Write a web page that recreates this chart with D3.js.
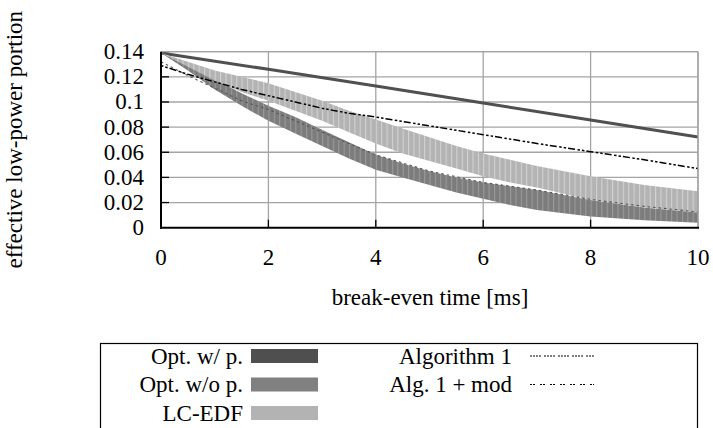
<!DOCTYPE html>
<html>
<head>
<meta charset="utf-8">
<script src="https://cdn.jsdelivr.net/npm/d3@7"></script>
<style>
    body { margin: 0; background: #fff; }
    text { font-family: "Liberation Serif", "DejaVu Serif", serif; fill: #000; }
</style>
</head>
<body>
<svg id="chart" width="713" height="428"></svg>
<script>
// tick values / labels
const xTicks = [0, 2, 4, 6, 8, 10];
const yTicks = [0, 0.02, 0.04, 0.06, 0.08, 0.1, 0.12, 0.14];
const yTickLabels = ["0", "0.02", "0.04", "0.06", "0.08", "0.1", "0.12", "0.14"];

// Opt. w/ p. (thin line)
const optWpX = [0, 2, 4, 6, 8, 10];
const optWpY = [0.139, 0.126, 0.1127, 0.0992, 0.0857, 0.0722];

// Opt. w/o p. band (min / max)
const bandX = [0, 0.5, 1, 1.5, 2, 2.5, 3, 3.5, 4, 4.5, 5, 5.5, 6, 6.5, 7, 8, 9, 10];
const optWoLo = [0.139, 0.125, 0.110, 0.097, 0.085, 0.075, 0.065, 0.055, 0.046, 0.040, 0.034, 0.028, 0.023, 0.018, 0.014, 0.009, 0.006, 0.004];
const optWoHi = [0.139, 0.130, 0.118, 0.107, 0.097, 0.088, 0.078, 0.068, 0.058, 0.051, 0.045, 0.040, 0.036, 0.033, 0.030, 0.022, 0.016, 0.012];

// LC-EDF band (min / max)
const lcLo = [0.139, 0.128, 0.117, 0.108, 0.101, 0.093, 0.085, 0.076, 0.067, 0.059, 0.053, 0.047, 0.041, 0.036, 0.032, 0.022, 0.016, 0.012];
const lcHi = [0.139, 0.132, 0.125, 0.120, 0.115, 0.108, 0.101, 0.093, 0.086, 0.079, 0.072, 0.065, 0.059, 0.054, 0.049, 0.041, 0.034, 0.029];

// Algorithm 1
const alg1X = [0, 0.5, 1, 1.5, 2, 2.5, 3, 3.5, 4, 5, 6, 7, 8, 9, 10];
const alg1Y = [0.129, 0.122, 0.116, 0.110, 0.105, 0.100, 0.095, 0.091, 0.088, 0.081, 0.074, 0.067, 0.0605, 0.054, 0.047];

// Alg. 1 + mod
const modX = [0, 0.5, 1, 1.5, 2, 3, 4, 5, 6, 7, 8, 9, 10];
const modY = [0.132, 0.121, 0.111, 0.101, 0.094, 0.076, 0.058, 0.045, 0.036, 0.030, 0.0225, 0.017, 0.0125];

const svg = d3.select("#chart");
const fontSize = 23;

const x = d3.scaleLinear().domain([0, 10]).range([161, 698]);
const y = d3.scaleLinear().domain([0, 0.14]).range([227.7, 51.7]);

// stripe patterns for the bands (one stripe every 0.1 ms)
const defs = svg.append("defs");
function stripes(id, base, stripe) {
    const w = x(0.1) - x(0);
    const p = defs.append("pattern")
        .attr("id", id)
        .attr("patternUnits", "userSpaceOnUse")
        .attr("x", x(0))
        .attr("width", w)
        .attr("height", 10);
    p.append("rect").attr("width", w).attr("height", 10).attr("fill", base);
    p.append("rect").attr("width", 1.1).attr("height", 10).attr("fill", stripe);
}
stripes("darkStripes", "#7c7c7c", "#9a9a9a");
stripes("lightStripes", "#b3b3b3", "#d2d2d2");

// grid
svg.append("g")
    .selectAll("line")
    .data(xTicks.slice(1))
    .join("line")
    .attr("x1", d => x(d)).attr("x2", d => x(d))
    .attr("y1", y(0)).attr("y2", y(0.14))
    .attr("stroke", "#a4a4a4").attr("stroke-width", 1.3);

svg.append("g")
    .selectAll("line")
    .data(yTicks.slice(1))
    .join("line")
    .attr("x1", x(0)).attr("x2", x(10))
    .attr("y1", d => y(d)).attr("y2", d => y(d))
    .attr("stroke", "#a4a4a4").attr("stroke-width", 1.3);

// inner tick marks
svg.append("g")
    .selectAll("line")
    .data(yTicks.slice(1))
    .join("line")
    .attr("x1", x(0)).attr("x2", x(0) + 8)
    .attr("y1", d => y(d)).attr("y2", d => y(d))
    .attr("stroke", "#000").attr("stroke-width", 1.3);

svg.append("g")
    .selectAll("line")
    .data(xTicks.slice(1, -1))
    .join("line")
    .attr("x1", d => x(d)).attr("x2", d => x(d))
    .attr("y1", y(0)).attr("y2", y(0) - 8)
    .attr("stroke", "#000").attr("stroke-width", 1.3);

const line = d3.line().x(d => x(d[0])).y(d => y(d[1]));
const area = d3.area().x(d => x(d[0])).y0(d => y(d[1])).y1(d => y(d[2]));

// Opt. w/ p.
svg.append("path")
    .datum(optWpX.map((v, i) => [v, optWpY[i]]))
    .attr("d", line)
    .attr("fill", "none")
    .attr("stroke", "#505050")
    .attr("stroke-width", 3);

// Opt. w/o p. band
svg.append("path")
    .datum(bandX.map((v, i) => [v, optWoLo[i], optWoHi[i]]))
    .attr("d", area)
    .attr("fill", "url(#darkStripes)");

// LC-EDF band
svg.append("path")
    .datum(bandX.map((v, i) => [v, lcLo[i], lcHi[i]]))
    .attr("d", area)
    .attr("fill", "url(#lightStripes)");

// Algorithm 1
svg.append("path")
    .datum(alg1X.map((v, i) => [v, alg1Y[i]]))
    .attr("d", line)
    .attr("fill", "none")
    .attr("stroke", "#000")
    .attr("stroke-width", 1.5)
    .attr("stroke-dasharray", "2.5,2,2.5,2,7,2.5");

// Alg. 1 + mod
svg.append("path")
    .datum(modX.map((v, i) => [v, modY[i]]))
    .attr("d", line)
    .attr("fill", "none")
    .attr("stroke", "#555")
    .attr("stroke-width", 1.1)
    .attr("stroke-dasharray", "2.5,3");

// border: top/right grey, left/bottom black
svg.append("line")
    .attr("x1", x(0)).attr("x2", x(10)).attr("y1", y(0.14)).attr("y2", y(0.14))
    .attr("stroke", "#a4a4a4").attr("stroke-width", 1.3);
svg.append("line")
    .attr("x1", x(10)).attr("x2", x(10)).attr("y1", y(0)).attr("y2", y(0.14))
    .attr("stroke", "#a4a4a4").attr("stroke-width", 1.3);
svg.append("line")
    .attr("x1", x(0)).attr("x2", x(0)).attr("y1", y(0) + 1).attr("y2", y(0.14))
    .attr("stroke", "#000").attr("stroke-width", 2);
svg.append("line")
    .attr("x1", x(0) - 1).attr("x2", x(10) + 1).attr("y1", y(0)).attr("y2", y(0))
    .attr("stroke", "#000").attr("stroke-width", 2);

// tick labels
svg.append("g")
    .selectAll("text")
    .data(yTicks)
    .join("text")
    .attr("x", 144)
    .attr("y", d => y(d) + 7.5)
    .attr("text-anchor", "end")
    .attr("font-size", fontSize)
    .text((d, i) => yTickLabels[i]);

svg.append("g")
    .selectAll("text")
    .data(xTicks)
    .join("text")
    .attr("x", d => x(d))
    .attr("y", 265)
    .attr("text-anchor", "middle")
    .attr("font-size", fontSize)
    .text(d => d);

// axis titles
svg.append("text")
    .attr("x", 430)
    .attr("y", 305)
    .attr("text-anchor", "middle")
    .attr("font-size", fontSize)
    .text("break-even time [ms]");

svg.append("text")
    .attr("transform", "translate(22,139.7) rotate(-90)")
    .attr("text-anchor", "middle")
    .attr("font-size", fontSize)
    .text("effective low-power portion");

// legend
const legend = svg.append("g");
legend.append("rect")
    .attr("x", 100.5).attr("y", 343.5)
    .attr("width", 597).attr("height", 120)
    .attr("fill", "none").attr("stroke", "#000").attr("stroke-width", 1.2);

const legendLeft = [
    { name: "Opt. w/ p.", fill: "#4f4f4f" },
    { name: "Opt. w/o p.", fill: "#808080" },
    { name: "LC-EDF", fill: "#b3b3b3" }
];
const legendRight = [
    { name: "Algorithm 1", dash: "2,1,2,1,2,1,2,3" },
    { name: "Alg. 1 + mod", dash: "2,1,2,5" }
];
const rowY = [356, 384.5, 413];

legendLeft.forEach((d, i) => {
    legend.append("text")
        .attr("x", 243).attr("y", rowY[i] + 7.5)
        .attr("text-anchor", "end").attr("font-size", fontSize)
        .text(d.name);
    legend.append("rect")
        .attr("x", 251).attr("y", rowY[i] - 7)
        .attr("width", 67).attr("height", 14)
        .attr("fill", d.fill);
});

legendRight.forEach((d, i) => {
    legend.append("text")
        .attr("x", 512).attr("y", rowY[i] + 7.5)
        .attr("text-anchor", "end").attr("font-size", fontSize)
        .text(d.name);
    legend.append("line")
        .attr("x1", 530).attr("x2", 594)
        .attr("y1", rowY[i]).attr("y2", rowY[i])
        .attr("stroke", "#000").attr("stroke-width", 1)
        .attr("stroke-dasharray", d.dash);
});
</script>
</body>
</html>
